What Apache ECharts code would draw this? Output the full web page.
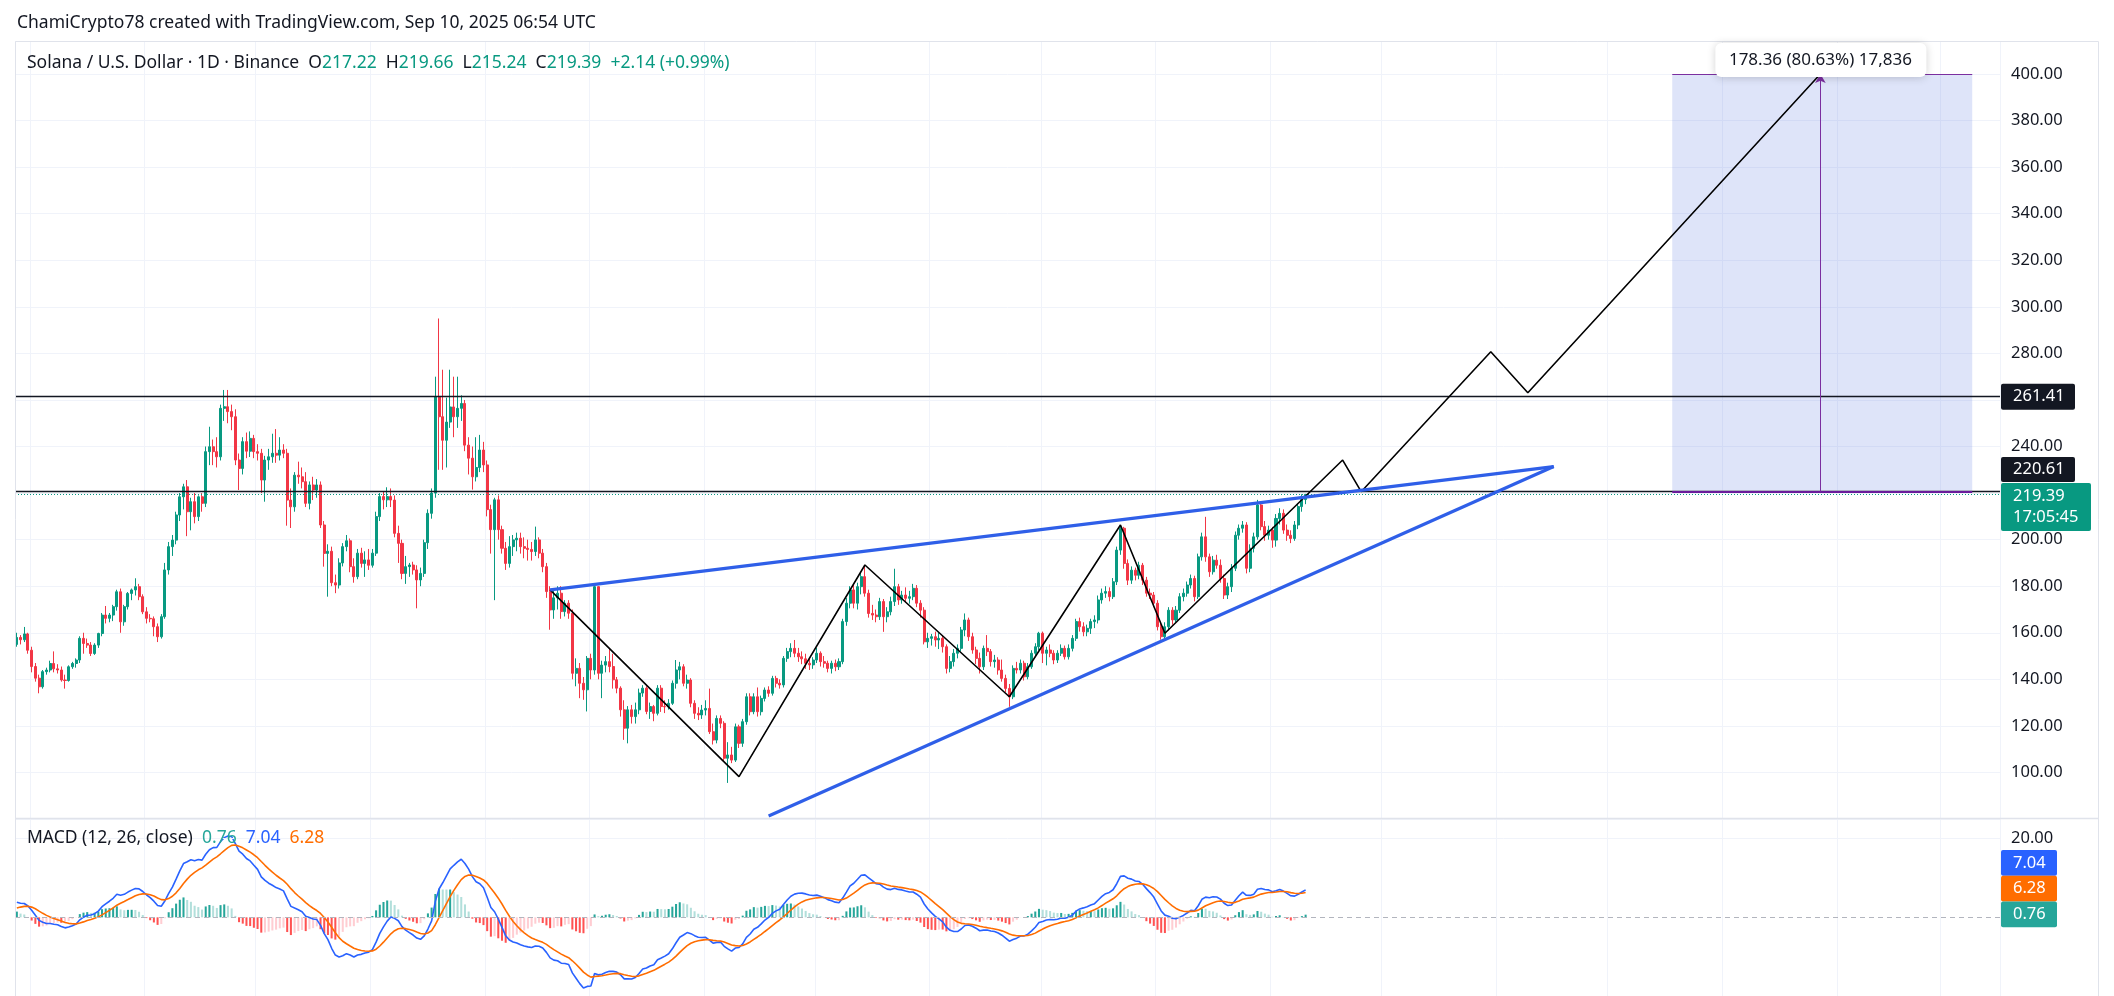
<!DOCTYPE html>
<html>
<head>
<meta charset="utf-8">
<title>SOL/USD 1D</title>
<script src="https://cdn.jsdelivr.net/npm/echarts@6/dist/echarts.min.js"></script>
<style>
  html, body { margin: 0; padding: 0; background: #fff; }
  #chart { width: 2114px; height: 996px; }
</style>
</head>
<body>
<div id="chart"></div>
<script>
// daily bars from 2024-09-27 to 2025-09-10 (open = previous close)
const firstOpen = 155;
const closes = [
  158,157,159.5,152.5,145.5,140.5,136.8,143.3,144,146.8,
  144.5,144,139.7,139.5,145.4,146.8,148.3,157.6,155.4,154.7,
  151.1,154.7,159.7,167.6,166.2,167.6,171.2,177.6,164.7,171.2,
  176.9,178.4,179.8,175.5,169,166.2,166,162.6,158.3,166.9,
  187,197,199.8,210.6,218.4,222.7,212,216.3,209.9,218.4,
  215.6,237.8,239.9,237.8,235.6,256.4,257.1,255,252.8,234.2,
  230.6,242.1,238,243.5,237.8,237.1,225.6,234.2,235.6,237.1,
  236.3,238.5,237.1,217,214.1,227.7,227,224.9,215.6,223.5,
  221.3,223.5,206.3,194.1,195,181.5,180.5,190,197,199.5,
  188.4,184.1,194.2,189.8,191.3,189,194.2,209.9,218.5,217.1,
  218.5,217,202.7,198.4,185.5,188.4,189.1,187,182.7,185.5,
  198.7,211.3,220,261.4,252.8,242.7,250.5,257,252.8,256.4,
  258.5,240.6,235,227,231,238.5,232.1,212.9,204.3,217.1,
  204.3,196.3,189.8,197,199.9,200.6,197,196.3,195.8,194.9,
  199.9,194.2,188.4,177.7,169.8,175,177,169.1,172.7,168.4,
  142.6,144.7,138.3,135.5,149,144,179.8,142.6,146.1,147.6,
  145.5,139.8,136.2,126.9,119,126.9,124,126.9,134.1,136.2,
  126.2,128.3,125.4,136.2,128.3,128.2,129.7,138.3,144,145.4,
  138.3,139.7,129.7,125.4,124.7,126.8,127.5,117.5,113.9,123.2,
  121.1,106.1,107.5,105.3,119.6,112.5,121.8,132.5,126.1,132.5,
  126.1,131.8,135.4,134,140.4,138.3,137.6,149,151.9,153.3,
  151.2,149.7,148.8,146.9,146.2,148.3,151.2,147.6,146.9,144.7,
  146.9,145.4,147.6,164.8,172.7,178.4,172.7,179.8,184.1,177,
  168.3,167.6,166.9,173.4,166.9,169,173.4,179.8,174.1,176.2,
  174.8,175.5,179.1,172.7,169.7,156.1,157.6,158.3,156.9,157.6,
  154,144.7,147.6,151.2,153.3,161.2,165.5,158.3,152.6,149,
  145.4,153.3,151.9,147.6,148.3,144,140.4,136.1,132.5,144.7,
  144,146.9,141.1,145.4,151.2,154,159.8,151.2,152.6,151.2,
  148.3,151.2,153.3,149.7,153.3,157.6,164.8,162.6,160.4,161.9,
  164.8,165.5,174.1,177,177.7,175.5,181.9,195.5,204.9,189.8,
  182.6,186.9,184.7,189,182.6,177,176.2,172.7,162.6,158.3,
  162.6,169.7,165.5,169.7,175.5,177,180.5,183.3,175.5,192.6,
  201.2,192.6,186.2,191.2,189,183.3,176.2,179.8,187.7,201.9,
  204.9,206.3,187.7,196.3,201.2,214.9,205.6,201.9,204.1,199.8,
  209.1,211.3,204.1,201.9,200.5,206.3,214.2,217.22,219.39
];
const highs = [
  160,159,162.5,160,154,147,142,144,145,148,
  152,146.5,145.5,142,146,147.5,149,158.5,160,157.5,
  156,155.5,160,168.5,171.5,168.5,172,178.5,179,172,
  177.5,179,183.4,181,176.5,171,168,167,164,168,
  190,199,202,212,220,224,225.6,218,220,219,
  220,240,248.5,243,244,258,264.3,264.3,258,256,
  237,244,246,246.5,245,241,239,236,239,245.5,
  247.5,244,241,239,222,229,233.5,231,229,225,
  227,226,225,208,198,197,185,192,198.5,202,
  200.5,192,196,196.5,195,196,196,212,220,220.5,
  222.5,222,219,206,200,193,190,190.5,189,188,
  200,213,222,270,295,273,261,273,270,270,
  262,260,244,240,244,245,242,234,215,218,
  219,206,199,201.5,202,203,203,201,200,199,
  205.6,201,196,190,180,179,180,180,174,174,
  170,149,147,141,150,151,180.5,180,148,150,
  153,151,141,137,131,128.5,129,130,136,137.5,
  137,130,129,137.5,137.5,131,131.5,139.5,148.3,147.5,
  146.5,142,140.5,131,128,129,131,136,121,124.5,
  124.5,122,113,111,121,120.5,123,134,134,134,
  136.5,133,136.5,137,141.5,141.5,140,150,153.5,155.5,
  156.9,153.5,152,151,149,149.5,153.5,152,150,148,
  148,148.5,149,166,175,180,180.5,181.5,186,189,
  178.5,172,170,175,174.5,171,175.5,187.5,181,178,
  179.5,178,181,180.5,174,171,160,159.5,160.5,160,
  159,155,150,153,155,162.5,168.3,166.5,160,154,
  151.5,154.5,159,153,150.5,149.5,148.5,142,138,146,
  147.5,148.5,148,147,152.5,155.5,160.4,160.5,154,155,
  152.5,152.5,155,154.5,155,159,166,166.5,164.5,163.5,
  166,167.5,176,179,180,179.5,183.5,197,206.3,205.5,
  191.5,188.5,188,190.5,190,184,179,177.5,174,164,
  164.5,171,171,171.5,177,179,182,185,184.5,194,
  203,209.8,194,193,193.5,191.5,185,181.5,189.5,203.5,
  206.5,208,207.5,198,203,217.1,216,208,206,205.5,
  211,213.5,213,206.5,204,208,215.5,219.5,219.66
];
const lows = [
  154,155,156,151,143,139,134,136,142,143,
  143,142.5,139,136,139,144.5,145,147,151,153.5,
  150,150.5,153.5,158.5,164,164.5,165,169.5,160,163,
  170,174,176,174,168,164,164.5,158.5,156,157.5,
  166,185,193,198,208,213,201.5,204,207,208,
  212,214,232,232,231,234,251,250,247,232,
  221.3,228,235,235.5,235,234,220,216.3,230,233,
  233,234,235,206,205,212,224,222,214,213,
  217,218,205,188.4,175.5,180,177,179,188.5,195,
  186,181.5,183,188,184,187,188,193,208,213,
  214,214,201,190,183,181,184,185,170.5,180,
  184,196,209,218,230,230,231,248,244,248,
  251,238,228,221.5,225,229,229,210,194,174,
  200,194,187,188,193,195,194,192,191,191,
  193,192,186,175,161.3,166,170,166,167,166,
  140,137,131.9,131.2,126.2,140,142,140,131.9,143,
  143,136,134,124,114,112.5,121,121,125,132.5,
  125,123,122,124.5,126,125.5,127,129,136,140,
  137,136,128,123,122.5,123,124.5,116.5,112,112.5,
  119,105,95.5,104,104.5,110.5,111,120.5,124.5,125,
  124,124.5,130.5,132.5,133,136.5,136,136.5,147.5,149.5,
  149.5,147.5,146.5,144.5,144,144.5,147,145.5,145,143,
  142.5,143.5,144,146.5,163,170.5,170.5,170,176.5,175.5,
  166.5,165.5,164.5,165.5,160.4,164.5,167.5,171.5,172,172.5,
  173,172.5,174,171,166.5,155,153.5,154.5,154,153,
  151.5,142.5,143,145.5,149,152,158.5,156.5,151,146.5,
  142.5,144,150,145.5,145,142,139,134.5,128.2,131.5,
  142.5,142.5,139.5,140,144.5,149.5,152.5,147,146,149.5,
  146.5,147,150,148.5,148.5,152,156.5,160.5,158.5,158.5,
  159.5,162,164,172.5,175,173.5,174.5,180.5,193.5,187.5,
  180.5,181,182.5,183,180.5,175.5,174.5,171,161,157,
  157.5,161,163.5,164.5,168.5,173.5,175.5,179,173.5,174.5,
  191,190.5,184,185,187.5,181.5,174.5,174.5,177.5,186.5,
  200,203,185.5,186,194.5,200,204,199.5,200,196.5,
  197,206.5,202.5,199.5,198.5,199.5,204.5,212,215.24
];

// drawings, as [bar index, price]
const zigzag = [[144, 178.4], [195, 98.2], [229, 189.1], [268, 132.5], [298, 206.3], [310, 159.8],
                [358, 234.2], [363, 220.6], [398, 280.7], [408, 263.1], [487, 400]];
const wedgeTop = [[144, 178.4], [415, 231.4]];
const wedgeBottom = [[203, 81.3], [415, 231.4]];
const levels = [261.41, 220.61];
const lastPrice = 219.39;
const rangeBox = { from: 447, to: 528, low: 220.61, high: 400, arrowAt: 487 };

const macdSeed = [156.5, 152.5, 2.0];
const macdLegend = ['0.76', '7.04', '6.28'];

const totalBars = 536; // leaves empty room on the right like the reference
const start = Date.UTC(2024, 8, 27);
const dates = [];
for (let i = 0; i < totalBars; i++) {
  dates.push(new Date(start + i * 86400000).toISOString().slice(0, 10));
}

const candles = closes.map((c, i) => [i === 0 ? firstOpen : closes[i - 1], c, lows[i], highs[i]]);

// MACD from the closes
let e12 = macdSeed[0], e26 = macdSeed[1], sig = macdSeed[2];
const macdLine = [], signalLine = [], hist = [];
closes.forEach(c => {
  e12 += (2 / 13) * (c - e12);
  e26 += (2 / 27) * (c - e26);
  const m = e12 - e26;
  sig += 0.2 * (m - sig);
  macdLine.push(+m.toFixed(3));
  signalLine.push(+sig.toFixed(3));
  hist.push(+(m - sig).toFixed(3));
});
const histData = hist.map((h, i) => {
  const prev = i ? hist[i - 1] : 0;
  let color;
  if (h >= 0) color = h > prev ? '#26A69A' : '#B2DFDB';
  else color = h < prev ? '#FF5252' : '#FFCDD2';
  return { value: h, itemStyle: { color } };
});

const UP = '#089981', DOWN = '#F23645';
const FONT = '"Noto Sans", sans-serif';
const GRID_C = '#f0f3fa';
const toPts = arr => arr.map(p => [dates[p[0]], p[1]]);

const myChart = echarts.init(document.getElementById('chart'));

const option = {
  animation: false,
  grid: [
    { left: 15, right: 114, top: 41, height: 778 },
    { left: 15, right: 114, top: 819, height: 185 }
  ],
  xAxis: [0, 1].map(g => ({
    type: 'category', gridIndex: g, data: dates, boundaryGap: true,
    axisLine: { show: false }, axisTick: { show: false }, axisLabel: { show: false },
    splitLine: { show: true, interval: (i, v) => v.endsWith('-01'), lineStyle: { color: GRID_C, width: 1 } }
  })),
  yAxis: [
    {
      type: 'value', gridIndex: 0, position: 'right', min: 80, max: 414.2, interval: 20,
      axisLine: { show: false }, axisTick: { show: false },
      splitLine: { lineStyle: { color: GRID_C } },
      axisLabel: {
        margin: 11, color: '#131722', fontSize: 16.5, fontFamily: FONT,
        formatter: v => (v >= 100 && v <= 400) ? v.toFixed(2) : ''
      }
    },
    {
      type: 'value', gridIndex: 1, position: 'right', min: -20, max: 25, interval: 20,
      axisLine: { show: false }, axisTick: { show: false }, splitLine: { show: false },
      axisLabel: {
        margin: 11, color: '#131722', fontSize: 16.5, fontFamily: FONT,
        formatter: v => v === 20 ? '20.00' : ''
      }
    }
  ],
  series: [
    {
      name: 'SOLUSD', type: 'candlestick', xAxisIndex: 0, yAxisIndex: 0,
      data: candles, barWidth: '68%',
      itemStyle: { color: UP, color0: DOWN, borderColor: UP, borderColor0: DOWN, borderWidth: 1 },
      markArea: {
        silent: true,
        itemStyle: { color: 'rgba(80, 110, 225, 0.19)' },
        data: [[{ xAxis: dates[rangeBox.from], yAxis: rangeBox.low }, { xAxis: dates[rangeBox.to], yAxis: rangeBox.high }]]
      },
      markLine: {
        silent: true, symbol: 'none', label: { show: false },
        data: [
          { yAxis: levels[0], lineStyle: { color: '#131722', width: 1.3, type: 'solid' } },
          { yAxis: levels[1], lineStyle: { color: '#131722', width: 1.3, type: 'solid' } },
          { yAxis: lastPrice, lineStyle: { color: UP, width: 1, type: [1, 2] } },
          [{ coord: [dates[rangeBox.from], rangeBox.high] }, { coord: [dates[rangeBox.to], rangeBox.high], lineStyle: { color: '#7b2fa0', width: 1, type: 'solid' } }],
          [{ coord: [dates[rangeBox.from], rangeBox.low] }, { coord: [dates[rangeBox.to], rangeBox.low], lineStyle: { color: '#6a1b9a', width: 2, type: 'solid' } }],
          [{ coord: [dates[rangeBox.arrowAt], rangeBox.low], symbol: 'none' },
           { coord: [dates[rangeBox.arrowAt], rangeBox.high], symbol: 'arrow', symbolSize: [8, 9], lineStyle: { color: '#7b2fa0', width: 1, type: 'solid' } }]
        ]
      }
    },
    {
      name: 'zigzag', type: 'line', xAxisIndex: 0, yAxisIndex: 0, data: toPts(zigzag),
      symbol: 'none', silent: true, z: 5, lineStyle: { color: '#000', width: 1.6 }
    },
    {
      name: 'wedgeTop', type: 'line', xAxisIndex: 0, yAxisIndex: 0, data: toPts(wedgeTop),
      symbol: 'none', silent: true, z: 6, lineStyle: { color: '#2f5fe8', width: 3.2 }
    },
    {
      name: 'wedgeBottom', type: 'line', xAxisIndex: 0, yAxisIndex: 0, data: toPts(wedgeBottom),
      symbol: 'none', silent: true, z: 6, lineStyle: { color: '#2f5fe8', width: 3.2 }
    },
    {
      name: 'Histogram', type: 'bar', xAxisIndex: 1, yAxisIndex: 1, data: histData, barWidth: '55%',
      markLine: {
        silent: true, symbol: 'none', label: { show: false },
        data: [
          { yAxis: 0, lineStyle: { color: '#b2b5be', width: 1, type: [5, 4] } },
          { yAxis: 20, lineStyle: { color: GRID_C, width: 1, type: 'solid' } }
        ]
      }
    },
    {
      name: 'MACD', type: 'line', xAxisIndex: 1, yAxisIndex: 1, data: macdLine,
      symbol: 'none', lineStyle: { color: '#2962FF', width: 1.6 }
    },
    {
      name: 'Signal', type: 'line', xAxisIndex: 1, yAxisIndex: 1, data: signalLine,
      symbol: 'none', lineStyle: { color: '#FF6D00', width: 1.6 }
    }
  ]
};
myChart.setOption(option);

// labels and price badges
const py = v => myChart.convertToPixel({ yAxisIndex: 0 }, v);
const my = v => myChart.convertToPixel({ yAxisIndex: 1 }, v);
const bx = i => myChart.convertToPixel({ xAxisIndex: 0 }, dates[i]);

function badge(yTop, w, h, bg, text, lineHeight) {
  return {
    type: 'group', z: 100, silent: true,
    children: [
      { type: 'rect', z: 100, shape: { x: 2001, y: yTop, width: w, height: h, r: 2 }, style: { fill: bg } },
      { type: 'text', z: 101, x: 2013, y: yTop + h / 2,
        style: { text, fill: '#fff', fontSize: 16.5, fontFamily: FONT, verticalAlign: 'middle', lineHeight: lineHeight || 20 } }
    ]
  };
}

const yLast = py(lastPrice);
const greenTop = yLast - 11.5;
const y0 = my(0.76);
const boxX = bx(rangeBox.arrowAt);

const rich = (fill) => ({ fill, fontSize: 17.5, fontFamily: FONT });

myChart.setOption({
  graphic: [
    { type: 'rect', z: 50, silent: true, shape: { x: 15.5, y: 41.5, width: 2083, height: 980 },
      style: { fill: 'none', stroke: '#e0e3eb', lineWidth: 1 } },
    { type: 'line', z: 50, silent: true, shape: { x1: 15, y1: 818.5, x2: 2098, y2: 818.5 },
      style: { stroke: '#e0e3eb', lineWidth: 1.5 } },
    { type: 'text', x: 17, y: 23, z: 100, silent: true,
      style: { text: 'ChamiCrypto78 created with TradingView.com, Sep 10, 2025 06:54 UTC',
               fill: '#131722', fontSize: 17.5, fontFamily: FONT, verticalAlign: 'middle' } },
    { type: 'text', x: 27, y: 63, z: 100, silent: true,
      style: {
        text: '{n|Solana / U.S. Dollar · 1D · Binance}  {k|O}{v|217.22}  {k|H}{v|219.66}  {k|L}{v|215.24}  {k|C}{v|219.39}  {v|+2.14 (+0.99%)}',
        verticalAlign: 'middle', fontSize: 17.5, fontFamily: FONT, fill: '#131722',
        rich: { n: rich('#131722'), k: rich('#131722'), v: rich(UP) }
      } },
    { type: 'text', x: 27, y: 838, z: 100, silent: true,
      style: {
        text: '{n|MACD (12, 26, close)}  {h|' + macdLegend[0] + '}  {m|' + macdLegend[1] + '}  {s|' + macdLegend[2] + '}',
        verticalAlign: 'middle', fontSize: 17.5, fontFamily: FONT, fill: '#131722',
        rich: { n: rich('#131722'), h: rich('#26A69A'), m: rich('#2962FF'), s: rich('#FF6D00') }
      } },
    // price range label
    { type: 'group', z: 100, silent: true, children: [
      { type: 'rect', z: 100, shape: { x: boxX - 105, y: 43, width: 211, height: 34, r: 6 },
        style: { fill: '#fff', shadowBlur: 8, shadowColor: 'rgba(0,0,0,0.18)', shadowOffsetY: 1 } },
      { type: 'text', z: 101, x: boxX, y: 60,
        style: { text: '178.36 (80.63%) 17,836', fill: '#131722', fontSize: 17, fontFamily: FONT,
                 align: 'center', verticalAlign: 'middle' } }
    ] },
    badge(py(levels[0]) - 13, 74, 26, '#131722', '261.41'),
    badge(greenTop - 26, 74, 25, '#131722', '220.61'),
    badge(greenTop, 90, 48, UP, '219.39\n17:05:45', 21),
    badge(y0 - 12.8 - 51.6, 56, 25.8, '#2962FF', macdLegend[1]),
    badge(y0 - 12.8 - 25.8, 56, 25.8, '#FF6D00', macdLegend[2]),
    badge(y0 - 12.8, 56, 25.8, '#26A69A', macdLegend[0])
  ]
});
window.addEventListener('resize', () => myChart.resize());
</script>
</body>
</html>
